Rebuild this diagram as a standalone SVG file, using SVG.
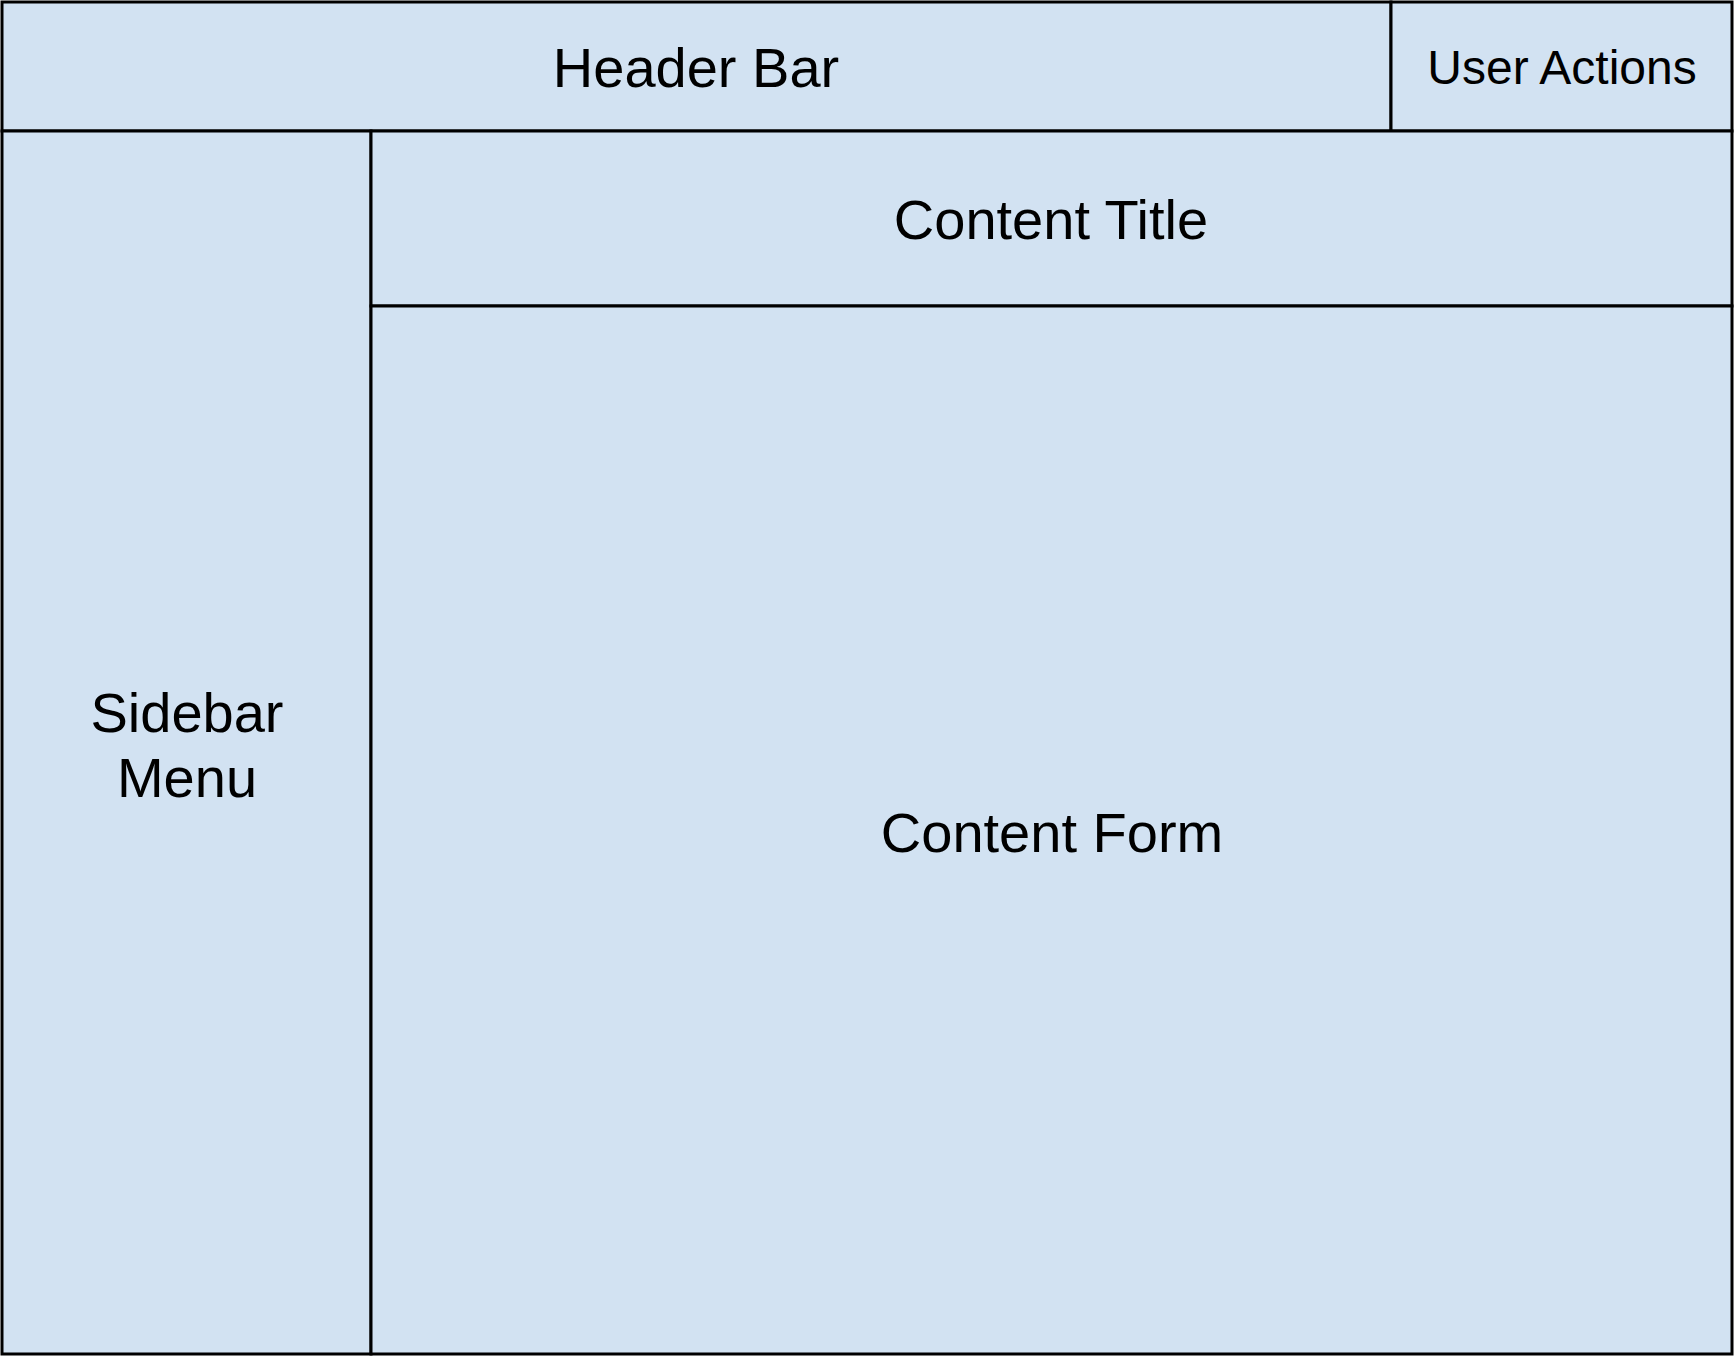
<svg xmlns="http://www.w3.org/2000/svg" width="1734" height="1356" viewBox="0 0 1734 1356">
<style>
.box{fill:#d2e2f2;stroke:#000;stroke-width:3}
.lbl{font-family:"Liberation Sans",Arial,sans-serif;font-size:56px;fill:#000;text-anchor:middle}
.sm{font-size:48px}
</style>
<rect width="1734" height="1356" fill="#ffffff"/>
<g id="header"><rect class="box" x="2" y="2" width="1389" height="129"/><text class="lbl" x="696" y="87">Header Bar</text></g>
<g id="user-actions"><rect class="box" x="1391" y="2" width="341" height="129"/><text class="lbl sm" x="1562" y="84">User Actions</text></g>
<g id="sidebar"><rect class="box" x="2" y="131" width="369" height="1223"/><text class="lbl" x="187" y="732">Sidebar</text><text class="lbl" x="187" y="797">Menu</text></g>
<g id="content-title"><rect class="box" x="371" y="131" width="1361" height="175"/><text class="lbl" x="1051" y="239">Content Title</text></g>
<g id="content-form"><rect class="box" x="371" y="306" width="1361" height="1048"/><text class="lbl" x="1052" y="852">Content Form</text></g>
<g id="connectors"></g>
</svg>
